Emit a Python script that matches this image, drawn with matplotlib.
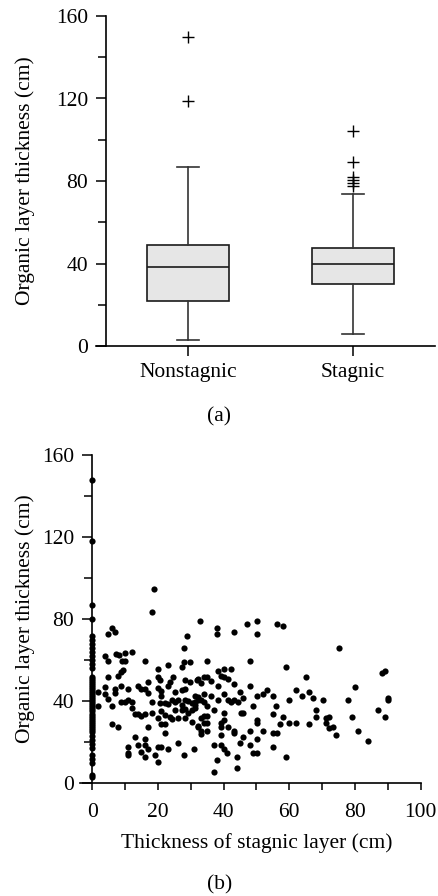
import matplotlib
matplotlib.use('Agg')
import matplotlib.pyplot as plt
from matplotlib.ticker import MultipleLocator

plt.rcParams['font.family'] = ['Liberation Serif', 'DejaVu Serif']
plt.rcParams['font.size'] = 15.5

# (a) box plot statistics
groups = ['Nonstagnic', 'Stagnic']
q1 = [22.0, 29.9]
medians = [38.3, 39.9]
q3 = [48.8, 47.7]
whis_lo = [2.9, 5.8]
whis_hi = [86.8, 73.8]
fliers = [[150.0, 119.0], [104.4, 89.0, 82.0, 80.5, 79.0, 77.5]]

# (b) scatter: points sitting on x = 0 (no stagnic layer)
zero_y = [148, 118, 87, 80, 72, 70, 68, 66, 64, 62, 60, 58, 56, 52, 51, 50, 49,
          48, 47, 46, 45, 44, 43, 42, 41, 40, 39, 38, 37, 36, 35, 34, 33, 32, 31,
          30, 29, 28, 27, 26, 25, 23, 21, 19, 17, 14, 12, 10, 4, 3]

# (b) scatter: points with a stagnic layer
stag_x = [18.1, 18.9, 32.8, 5.9, 6.9, 4.9, 29, 28, 3.9, 4.9, 7.2, 8.2, 10, 12, 9, 10,
          16, 23, 20.1, 28, 29.8, 27.2, 9.5, 8.9, 7.9, 4.9, 20.1, 20.6, 24.7, 17.1,
          23.7, 28.2, 29.8, 32, 3.9, 6.9, 1.8, 3.9, 6.9, 8.9, 11, 14, 15, 16, 17,
          20.1, 21.1, 23.2, 25.2, 27.2, 28.2, 4.9, 1.8, 5.9, 8.9, 10, 11, 12, 12,
          18.1, 21.1, 20.6, 22.1, 23.2, 24.2, 25.2, 26.2, 27.2, 28.2, 29.3, 30.3,
          31.3, 32.3, 25.2, 27.2, 28.2, 29.3, 30.3, 31.3, 13, 14, 15, 16, 18.1,
          21.1, 20.1, 22.1, 23.7, 24.2, 26.2, 28.2, 30.3, 32.3, 5.9, 7.9, 17.1,
          21.1, 22.1, 22.1, 13, 14, 15, 16, 16, 11, 11, 11, 17.1, 19.1, 20.1, 21.1,
          20.1, 16, 23, 26, 28, 31.1,
          38.1, 38.1, 43.1, 47, 50.1, 50.1, 56.2, 58, 35, 48, 59, 65, 32.1, 33.1,
          34.1, 35.1, 36.1, 38.2, 39.2, 40.2, 41.2, 40.2, 42.2, 38.2, 43.2, 31.3,
          32.1, 33.1, 34.1, 34.1, 36.1, 35.1, 38.2, 40.2, 41.2, 42.2, 43.2, 44.3,
          45, 46, 48, 50.1, 52.1, 53.1, 55.1, 56, 60, 62, 64, 31.3, 33.1, 34.1,
          35.1, 34.1, 35.1, 32.1, 33.1, 33.1, 35.1, 37.2, 39.2, 39.2, 39.2, 40.2,
          40.2, 41.2, 43.2, 43.2, 45.3, 46, 49, 50.1, 50.1, 46, 48, 50.1, 52.1,
          55.1, 55.1, 56.2, 57.2, 58.2, 60, 62, 45, 48, 49, 50.1, 55.1, 59, 37.1,
          39.1, 40.1, 41.1, 38.1, 37.1, 44, 44,
          75.1, 88.1, 89.1, 80, 66.1, 67.1, 70.2, 78, 90, 90, 68.1, 68.1, 71.2,
          72.2, 71.2, 72.2, 73.2, 74.2, 66.1, 79, 81, 84.1, 87.1, 89.1]
org_y = [83.7, 94.8, 78.9, 75.6, 73.6, 72.8, 71.9, 65.7, 61.8, 59.8, 62.9, 62.6, 63.7,
         63.9, 59.8, 59.8, 59.7, 57.7, 55.6, 58.9, 58.9, 56.6, 55.3, 54.1, 52.3,
         51.7, 52, 50.4, 51.7, 49.6, 49.6, 50.4, 49.6, 50.4, 46.7, 45.8, 44.7, 43.6,
         43.9, 47.5, 45.8, 47.6, 45.8, 45.8, 44.2, 46.3, 45, 47.5, 44.7, 45.5, 45.8,
         41, 37.7, 37.7, 39.5, 39.8, 40.6, 39.8, 36.6, 39.8, 42.6, 39, 39.3, 38.7,
         40.6, 39.8, 40.6, 38.2, 40.6, 40.2, 39.3, 39.8, 40.6, 35.8, 35.8, 36.1,
         34.1, 35.8, 38.2, 33.6, 33.6, 32.8, 33.6, 34.5, 35, 31.7, 33.3, 32.5, 31.2,
         31.7, 31.7, 30.1, 28, 28.8, 27.6, 27.6, 28.8, 28.8, 24.4, 22.8, 18.7, 15.4,
         21.6, 18.7, 17.9, 14.6, 13.8, 16.6, 13.8, 17.5, 17.5, 10.6, 12.7, 16.6,
         19.5, 13.8, 16.6,
         75.9, 72.7, 73.6, 77.7, 78.9, 72.7, 77.7, 76.7, 59.7, 59.7, 56.6, 51.7,
         50.7, 48.8, 51.7, 51.7, 50.1, 54.8, 52.3, 51.7, 50.7, 55.6, 55.6, 47.6,
         48.4, 42.6, 42, 40.6, 43.4, 39.8, 42.6, 37.7, 40.6, 43.4, 40.6, 39.8, 40.6,
         39.5, 44.7, 41.5, 47.6, 42.6, 43.6, 45.5, 42.6, 37.7, 40.6, 45.5, 42.6,
         36.6, 32, 32.8, 32.8, 29.6, 29.6, 27.6, 25.5, 23.9, 25.5, 35.8, 29.6, 27.6,
         23.6, 34.1, 30.9, 27.6, 25.5, 24.7, 34.5, 34.5, 37.7, 30.9, 29.6, 22.8,
         25.5, 21.6, 25.5, 33.6, 24.7, 24.7, 28.8, 32.5, 29.6, 29.6, 19.5, 18.7,
         14.6, 14.6, 17.5, 12.7, 18.7, 18.7, 16.6, 14.6, 11.4, 5.7, 12.7, 7.6,
         65.7, 53.6, 54.8, 46.7, 44.7, 41.8, 40.6, 40.6, 41.4, 40.6, 35.8, 32.5,
         31.7, 32.5, 29.6, 26.8, 27.6, 23.6, 28.8, 32.5, 25.5, 20.6, 35.8, 32.5]

W, H = 439, 896
fig = plt.figure(figsize=(W / 100, H / 100), dpi=100)


def style_axes(ax):
    for side in ['top', 'right']:
        ax.spines[side].set_visible(False)
    for side in ['left', 'bottom']:
        ax.spines[side].set_linewidth(1.2)
    ax.tick_params(which='major', direction='out', length=7, width=1.1, pad=6)
    ax.tick_params(which='minor', direction='out', length=5.5, width=1.1)


# ---- (a) box plot ----
ax1 = fig.add_axes([96 / W, 1 - 346 / H, (435 - 96) / W, (346 - 16) / H])
stats = []
for i in range(len(groups)):
    stats.append({'label': groups[i], 'q1': q1[i], 'med': medians[i], 'q3': q3[i],
                  'whislo': whis_lo[i], 'whishi': whis_hi[i], 'fliers': fliers[i]})
ax1.bxp(stats, positions=[1, 2], widths=0.5, capwidths=0.135, patch_artist=True,
        boxprops=dict(facecolor='#e6e6e6', edgecolor='#1a1a1a', linewidth=1.2),
        whiskerprops=dict(color='#333333', linewidth=1.2),
        capprops=dict(color='#333333', linewidth=1.2),
        medianprops=dict(color='#1a1a1a', linewidth=1.2),
        flierprops=dict(marker='+', markersize=9, markeredgecolor='black',
                        markeredgewidth=1.0))
ax1.set_xlim(0.442, 2.497)
ax1.set_ylim(0, 160)
ax1.spines['left'].set_position(('data', 0.503))
ax1.yaxis.set_major_locator(MultipleLocator(40))
ax1.yaxis.set_minor_locator(MultipleLocator(20))
ax1.set_xticks([1, 2])
ax1.set_xticklabels(groups)
style_axes(ax1)
ax1.tick_params(axis='x', pad=5)

fig.text(25 / W, 1 - 181 / H, 'Organic layer thickness (cm)', rotation=90,
         ha='center', va='center')
fig.text(0.5, 1 - 417 / H, '(a)', ha='center', va='center')

# ---- (b) scatter ----
ax2 = fig.add_axes([80 / W, 1 - 783.3 / H, (420.7 - 80) / W, (783.3 - 455) / H])
ax2.scatter([0] * len(zero_y), zero_y, s=20, color='black', linewidths=0,
            clip_on=False, zorder=3)
ax2.scatter(stag_x, org_y, s=20, color='black', linewidths=0, clip_on=False,
            zorder=3)
ax2.set_xlim(-3.7, 100)
ax2.set_ylim(0, 160)
ax2.spines['left'].set_position(('data', 0))
ax2.xaxis.set_major_locator(MultipleLocator(20))
ax2.xaxis.set_minor_locator(MultipleLocator(10))
ax2.yaxis.set_major_locator(MultipleLocator(40))
ax2.yaxis.set_minor_locator(MultipleLocator(20))
style_axes(ax2)
ax2.tick_params(axis='x', which='major', length=5, pad=9)
ax2.tick_params(axis='x', which='minor', length=5)

fig.text(25 / W, 1 - 619 / H, 'Organic layer thickness (cm)', rotation=90,
         ha='center', va='center')
fig.text(256.5 / W, 1 - 843 / H, 'Thickness of stagnic layer (cm)',
         ha='center', va='center')
fig.text(0.5, 1 - 885 / H, '(b)', ha='center', va='center')

fig.savefig('out.png', dpi=100)
